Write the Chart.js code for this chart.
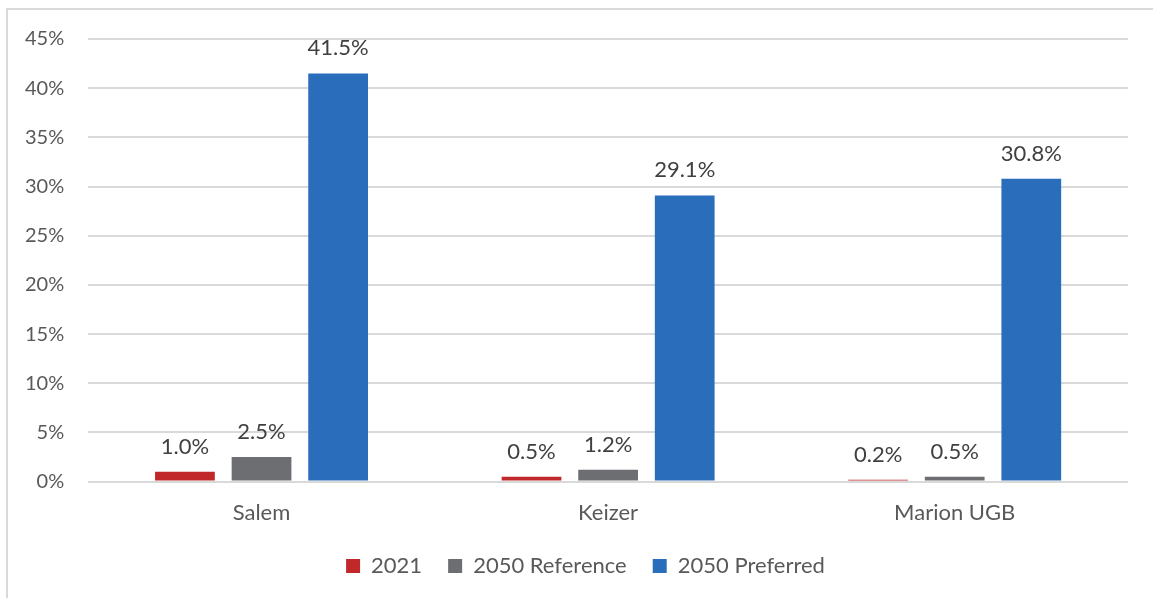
<!DOCTYPE html>
<html>
<head>
<meta charset="utf-8">
<script src="https://cdn.jsdelivr.net/npm/chart.js@4.4.1/dist/chart.umd.min.js"></script>
<style>
  html, body { margin: 0; padding: 0; background: #fff; }
  #wrap { width: 1153px; height: 598px; position: relative; }
</style>
</head>
<body>
<div id="wrap"><canvas id="shareChart"></canvas></div>
<script>
const categories = ["Salem", "Keizer", "Marion UGB"];
const seriesNames = ["2021", "2050 Reference", "2050 Preferred"];
const values2021 = [1.0, 0.5, 0.2];
const valuesReference = [2.5, 1.2, 0.5];
const valuesPreferred = [41.5, 29.1, 30.8];
const yTicks = [0, 5, 10, 15, 20, 25, 30, 35, 40, 45];

const COLORS = ["#C0282A", "#6D6E71", "#2A6EBB"];
const FONT = "Lato, 'Open Sans', sans-serif";
const TEXT = "#595959";

// outer frame of the chart object
const framePlugin = {
  id: "frame",
  beforeDraw(chart) {
    const ctx = chart.ctx;
    ctx.save();
    ctx.strokeStyle = "#d9d9d9";
    ctx.lineWidth = 2;
    ctx.strokeRect(7, 9, chart.width + 20, chart.height + 20);
    ctx.restore();
  },
};

// nudge the legend a little right of the canvas centre
const legendShift = {
  id: "legendShift",
  afterLayout(chart) {
    chart.legend.left += 21;
    chart.legend.right += 21;
  },
};

// value labels above each bar
const barLabels = {
  id: "barLabels",
  afterDatasetsDraw(chart) {
    const ctx = chart.ctx;
    ctx.save();
    ctx.font = `22px ${FONT}`;
    ctx.fillStyle = "#404040";
    ctx.textAlign = "center";
    ctx.textBaseline = "alphabetic";
    chart.data.datasets.forEach((ds, i) => {
      chart.getDatasetMeta(i).data.forEach((bar, j) => {
        ctx.fillText(ds.data[j].toFixed(1) + "%", bar.x, bar.y - 18);
      });
    });
    ctx.restore();
  },
};

const ctx = document.getElementById("shareChart").getContext("2d");
new Chart(ctx, {
  type: "bar",
  data: {
    labels: categories,
    datasets: [values2021, valuesReference, valuesPreferred].map((data, i) => ({
      label: seriesNames[i],
      data: data,
      backgroundColor: COLORS[i],
      categoryPercentage: 0.663,
      barPercentage: 0.78,
    })),
  },
  options: {
    responsive: true,
    maintainAspectRatio: false,
    animation: false,
    layout: { padding: { left: 1, right: 25, top: 39, bottom: 11 } },
    scales: {
      x: {
        grid: { display: false },
        border: { display: false },
        ticks: { color: TEXT, font: { family: FONT, size: 22 }, padding: 10 },
        afterFit(scale) {
          // let the category labels sit in the gap above the legend
          scale.height -= 7;
        },
      },
      y: {
        min: 0,
        max: 45,
        afterBuildTicks(axis) {
          axis.ticks = yTicks.map((v) => ({ value: v }));
        },
        grid: { color: "#d9d9d9", lineWidth: 2, drawTicks: false },
        border: { display: false },
        ticks: {
          color: TEXT,
          font: { family: FONT, size: 20 },
          padding: 24,
          callback: (v) => v + "%",
        },
      },
    },
    plugins: {
      legend: {
        position: "bottom",
        labels: {
          color: TEXT,
          font: { family: FONT, size: 22 },
          boxWidth: 14,
          boxHeight: 14,
          padding: 26,
        },
      },
      tooltip: { enabled: false },
    },
  },
  plugins: [framePlugin, legendShift, barLabels],
});
</script>
</body>
</html>
